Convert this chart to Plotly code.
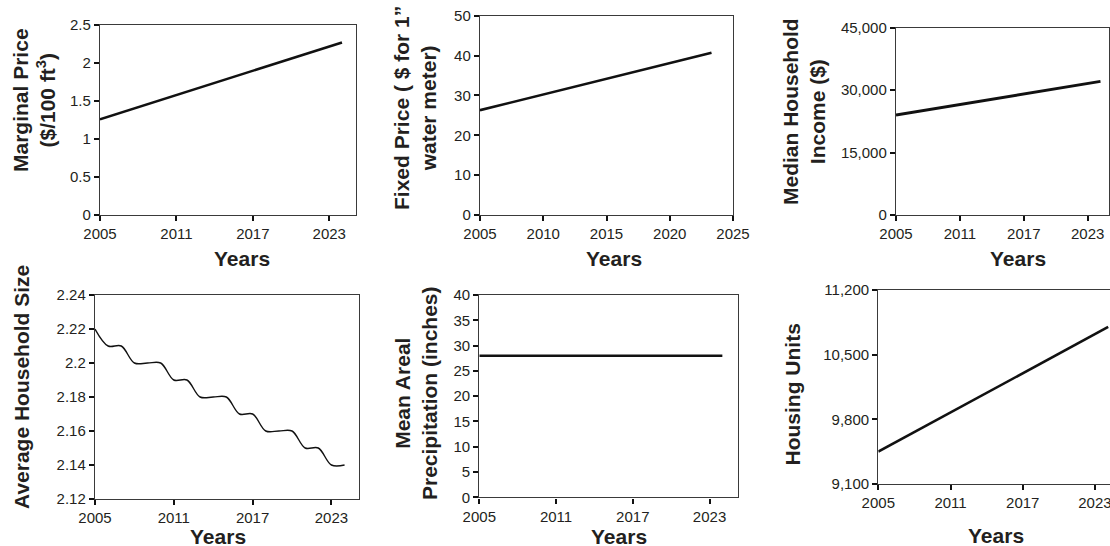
import plotly.graph_objects as go

W, H = 1110, 546

# ---- data ----
years_tick = [2005, 2011, 2017, 2023]

mp_years = [2005, 2024]
mp_values = [1.26, 2.27]

fp_years = [2005, 2023.3]
fp_values = [26.3, 40.7]

inc_years = [2005, 2024.2]
inc_values = [24000, 32100]

hh_years = [2005, 2006, 2007, 2008, 2009, 2010, 2011, 2012, 2013, 2014,
            2015, 2016, 2017, 2018, 2019, 2020, 2021, 2022, 2023, 2024]
hh_values = [2.22, 2.21, 2.21, 2.20, 2.20, 2.20, 2.19, 2.19, 2.18, 2.18,
             2.18, 2.17, 2.17, 2.16, 2.16, 2.16, 2.15, 2.15, 2.14, 2.14]

pr_years = [2005, 2024]
pr_values = [28, 28]

hu_years = [2005, 2024.1]
hu_values = [9450, 10800]

FONT = "Liberation Sans, Arial, sans-serif"
TXT = "#231f20"


def px_x(p):
    return p / W


def px_y(p):
    return 1 - p / H


fig = go.Figure()

panels = [
    (mp_years, mp_values, 2.6, (100, 356), (25, 215), [2005, 2025.1], [0, 2.5],
     years_tick, [0, 0.5, 1, 1.5, 2, 2.5], None),
    (fp_years, fp_values, 2.6, (480, 733), (15.7, 215), [2005, 2025], [0, 50],
     [2005, 2010, 2015, 2020, 2025], [0, 10, 20, 30, 40, 50], None),
    (inc_years, inc_values, 3.0, (896, 1109), (27.7, 215), [2005, 2025], [0, 45000],
     years_tick, [0, 15000, 30000, 45000], ","),
    (hh_years, hh_values, 1.4, (95, 359), (295, 499), [2005, 2025.1], [2.12, 2.24],
     years_tick, [2.12, 2.14, 2.16, 2.18, 2.2, 2.22, 2.24], None),
    (pr_years, pr_values, 2.6, (479.3, 737.7), (295, 497.3), [2005, 2025.2], [0, 40],
     years_tick, [0, 5, 10, 15, 20, 25, 30, 35, 40], None),
    (hu_years, hu_values, 2.6, (878.3, 1110), (290, 484), [2005, 2024.25], [9100, 11200],
     years_tick, [9100, 9800, 10500, 11200], ","),
]

layout = {}
for i, (xs, ys, lw, xd, yd, xr, yr, xt, yt, yfmt) in enumerate(panels):
    n = "" if i == 0 else str(i + 1)
    shape = "spline" if i == 3 else "linear"
    fig.add_trace(go.Scatter(x=xs, y=ys, mode="lines",
                             line=dict(color="#111111", width=lw, shape=shape, smoothing=1.0),
                             xaxis="x" + n, yaxis="y" + n, showlegend=False,
                             cliponaxis=True))
    common = dict(showgrid=False, zeroline=False, showline=True, mirror=True,
                  linecolor="#3a3a3a", linewidth=1.4, ticks="outside", ticklen=5,
                  tickwidth=1.6, tickcolor="#111111", automargin=False,
                  ticklabeloverflow="allow",
                  tickfont=dict(family=FONT, size=15, color=TXT))
    layout["xaxis" + n] = dict(domain=[px_x(xd[0]), min(1.0, px_x(xd[1]))], range=xr,
                               tickmode="array", tickvals=xt,
                               ticktext=[str(v) for v in xt],
                               anchor="y" + n, **common)
    yax = dict(domain=[px_y(yd[1]), px_y(yd[0])], range=yr,
               tickmode="array", tickvals=yt, anchor="x" + n, **common)
    if yfmt:
        yax["tickformat"] = yfmt
    layout["yaxis" + n] = yax

fig.update_layout(**layout)

xtitles = [(241.7, 258), (614, 258), (1017.5, 258), (218, 536), (619, 536), (995.8, 535)]
ytitles = [
    ("Marginal Price<br>($/100 ft<sup>3</sup>)", 34, 100),
    ("Fixed Price ( $ for 1\u201d<br>water meter)", 415, 108),
    ("Median Household<br>Income ($)", 804, 112),
    ("Average Household Size", 21, 387),
    ("Mean Areal<br>Precipitation (inches)", 416, 393),
    ("Housing Units", 791.5, 395),
]

annotations = []
for (x, y) in xtitles:
    annotations.append(dict(text="<b>Years</b>", x=px_x(x), y=px_y(y), xref="paper",
                            yref="paper", showarrow=False, xanchor="center",
                            yanchor="middle",
                            font=dict(family=FONT, size=21, color=TXT)))
for (t, x, y) in ytitles:
    annotations.append(dict(text="<b>" + t + "</b>", x=px_x(x), y=px_y(y), xref="paper",
                            yref="paper", showarrow=False, xanchor="center",
                            yanchor="middle", textangle=-90,
                            font=dict(family=FONT, size=21, color=TXT)))

fig.update_layout(width=W, height=H, margin=dict(l=0, r=0, t=0, b=0),
                  paper_bgcolor="white", plot_bgcolor="white",
                  annotations=annotations, template="none",
                  font=dict(family=FONT, color=TXT))

fig.write_html("out.html", config={"displayModeBar": False},
               post_script="document.body.style.margin='0';"
                           "document.body.style.overflow='hidden';")
